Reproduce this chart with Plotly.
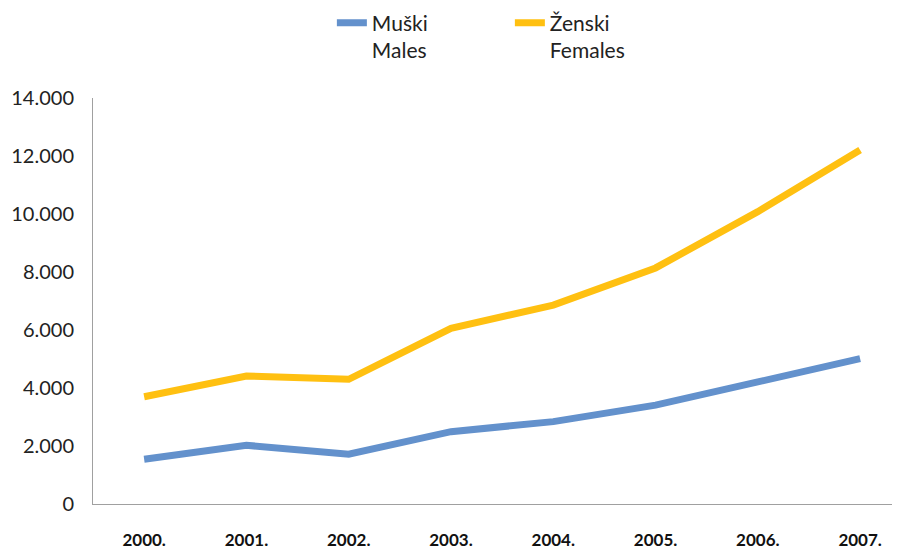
import plotly.graph_objects as go

years = ["2000.", "2001.", "2002.", "2003.", "2004.", "2005.", "2006.", "2007."]
males = [1540, 2025, 1715, 2495, 2840, 3410, 4210, 5010]
females = [3700, 4415, 4300, 6060, 6860, 8140, 10080, 12210]
y_ticks = [0, 2000, 4000, 6000, 8000, 10000, 12000, 14000]
y_tick_labels = ["0", "2.000", "4.000", "6.000", "8.000", "10.000", "12.000", "14.000"]

fig = go.Figure()
fig.add_trace(go.Scatter(x=years, y=males, mode="lines", name="Muški<br>Males",
                         line=dict(color="#6391CC", width=7)))
fig.add_trace(go.Scatter(x=years, y=females, mode="lines", name="Ženski<br>Females",
                         line=dict(color="#FFC011", width=7)))

fig.update_layout(
    width=892, height=544,
    margin=dict(l=85, r=0, t=90, b=48, autoexpand=False),
    paper_bgcolor="white", plot_bgcolor="white",
    font=dict(family="Lato, 'Open Sans', sans-serif", color="#222222"),
    showlegend=True,
    legend=dict(orientation="h", x=0.296, xanchor="left", y=1.235, yanchor="top",
                valign="top", font=dict(size=21, color="#222222"),
                entrywidth=133, entrywidthmode="pixels", traceorder="normal"),
)
fig.update_xaxes(type="category", range=[-0.5, 7.39], showline=True, linecolor="#A0A0A0",
                 linewidth=1, showgrid=False, ticks="", ticklabelstandoff=21,
                 tickfont=dict(size=17, family="Lato", weight="bold", color="#111111"))
fig.update_yaxes(range=[0, 14000], showline=True, linecolor="#A0A0A0", linewidth=1,
                 showgrid=False, zeroline=False, ticks="", tickvals=y_ticks,
                 ticktext=y_tick_labels, ticklabelstandoff=14,
                 tickfont=dict(size=20, color="#222222"))

fig.write_html("out.html")
